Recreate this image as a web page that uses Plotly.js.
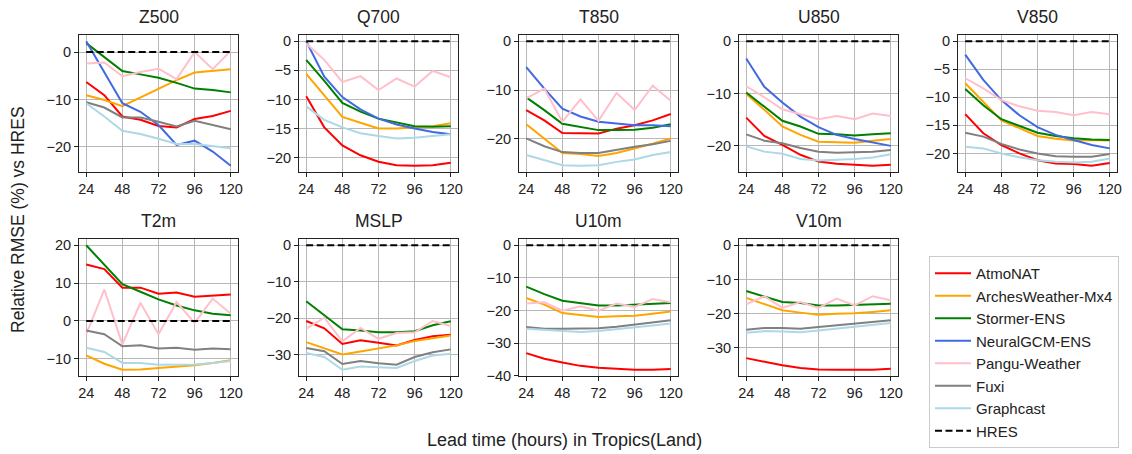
<!DOCTYPE html>
<html>
<head>
<meta charset="utf-8">
<script src="https://cdn.plot.ly/plotly-3.0.1.min.js"></script>
<style>html,body{margin:0;padding:0;background:#fff;}#chart{width:1132px;height:454px;}</style>
</head>
<body>
<div id="chart"></div>
<script>
// Lead times (hours)
const hours = [24, 36, 48, 60, 72, 84, 96, 108, 120];
const tickHours = [24, 48, 72, 96, 120];
const models = ["AtmoNAT", "ArchesWeather-Mx4", "Stormer-ENS", "NeuralGCM-ENS", "Pangu-Weather", "Fuxi", "Graphcast"];
const modelColors = ["red", "orange", "green", "royalblue", "pink", "gray", "lightblue"];
const panelTitles = ["Z500", "Q700", "T850", "U850", "V850", "T2m", "MSLP", "U10m", "V10m"];
const hres = [0, 0, 0, 0, 0, 0, 0, 0, 0];

// Values per panel, in model order (empty array = model not shown)
const Z500 = [
  [-6.3, -9.1, -13.6, -14.3, -15.6, -15.9, -14.1, -13.5, -12.4],
  [-9.1, -10.1, -11.4, -9.6, -7.7, -5.9, -4.3, -4.0, -3.6],
  [1.9, -1.0, -4.0, -4.7, -5.4, -6.5, -7.7, -8.0, -8.5],
  [2.3, -4.2, -10.8, -12.6, -15.4, -19.6, -18.7, -21.0, -24.0],
  [-2.4, -2.2, -5.1, -4.2, -3.5, -5.7, 0.0, -3.6, 0.3],
  [-10.6, -11.7, -13.8, -13.8, -14.7, -15.7, -14.5, -15.4, -16.3],
  [-10.8, -13.6, -16.6, -17.3, -18.3, -19.4, -19.4, -19.8, -20.3]
];
const Q700 = [
  [-9.45, -14.8, -17.9, -19.6, -20.7, -21.3, -21.4, -21.3, -20.9],
  [-5.6, -9.3, -13.0, -14.0, -15.0, -15.0, -14.8, -14.6, -14.1],
  [-3.2, -6.8, -10.6, -12.1, -13.3, -14.0, -14.6, -14.7, -14.6],
  [0.0, -6.1, -9.6, -11.7, -13.3, -14.3, -15.0, -15.6, -16.0],
  [-0.4, -3.2, -7.0, -6.0, -8.4, -6.4, -7.8, -5.1, -6.2],
  [],
  [-11.2, -13.5, -14.8, -15.8, -16.3, -16.7, -16.6, -16.3, -16.0]
];
const T850 = [
  [-14.1, -16.2, -18.8, -18.9, -18.9, -17.9, -17.2, -16.2, -14.9],
  [-17.0, -19.9, -22.9, -23.1, -23.5, -22.9, -22.0, -21.0, -19.9],
  [-11.5, -14.1, -16.9, -17.5, -18.2, -18.2, -18.1, -17.7, -17.0],
  [-5.3, -9.7, -13.8, -15.4, -16.5, -16.9, -17.2, -17.2, -17.4],
  [-11.7, -9.7, -16.5, -11.9, -16.3, -10.6, -14.1, -9.1, -12.2],
  [-19.9, -21.5, -22.7, -22.9, -22.9, -22.2, -21.6, -21.1, -20.4],
  [-23.3, -24.4, -25.4, -25.5, -25.4, -24.7, -24.2, -23.3, -22.7]
];
const U850 = [
  [-14.6, -18.1, -19.8, -21.7, -23.0, -23.4, -23.6, -23.8, -23.6],
  [-10.1, -13.1, -16.3, -17.9, -19.2, -19.3, -19.4, -19.0, -18.7],
  [-9.8, -12.5, -15.2, -16.3, -17.7, -17.8, -18.0, -17.8, -17.6],
  [-3.3, -8.7, -11.7, -14.4, -16.4, -17.9, -18.7, -19.4, -20.0],
  [-8.6, -10.7, -13.0, -13.9, -14.9, -14.3, -14.9, -13.8, -14.3],
  [-17.8, -19.0, -19.5, -20.4, -21.1, -21.3, -21.2, -21.1, -20.8],
  [-20.1, -21.1, -21.5, -22.5, -22.8, -22.7, -22.5, -22.2, -21.6]
];
const V850 = [
  [-13.0, -16.4, -18.5, -20.0, -21.2, -21.8, -21.9, -22.2, -21.7],
  [-7.5, -10.8, -14.1, -15.5, -16.9, -17.4, -17.7, -17.6, -17.7],
  [-8.5, -11.4, -13.9, -15.1, -16.3, -16.9, -17.3, -17.5, -17.6],
  [-2.4, -6.9, -10.5, -13.2, -15.3, -16.7, -17.6, -18.5, -19.1],
  [-6.6, -8.4, -10.5, -11.6, -12.4, -12.6, -13.2, -12.6, -13.0],
  [-16.3, -17.0, -18.3, -19.3, -20.0, -20.5, -20.6, -20.6, -20.1],
  [-18.8, -19.1, -20.0, -20.7, -21.2, -21.5, -21.6, -21.5, -20.9]
];
const T2m = [
  [14.9, 13.7, 8.8, 8.8, 7.2, 7.5, 6.4, 6.8, 7.0],
  [-9.1, -11.3, -12.9, -12.8, -12.4, -12.0, -11.7, -11.1, -10.4],
  [20.0, 14.9, 9.7, 7.7, 5.7, 4.1, 2.8, 1.9, 1.5],
  [],
  [-3.5, 8.3, -6.2, 4.8, -3.5, 5.0, -0.5, 5.9, 1.9],
  [-2.5, -3.5, -6.7, -6.4, -7.3, -7.1, -7.6, -7.3, -7.5],
  [-7.1, -8.2, -11.1, -11.1, -11.6, -11.5, -11.5, -11.1, -10.6]
];
const MSLP = [
  [-20.8, -22.8, -27.1, -26.1, -26.8, -27.5, -26.0, -25.0, -24.6],
  [-26.6, -28.2, -30.0, -29.2, -28.4, -27.5, -26.3, -25.5, -24.8],
  [-15.4, -19.3, -23.1, -23.4, -23.9, -23.9, -23.6, -22.0, -20.9],
  [],
  [-22.9, -19.9, -26.4, -22.7, -25.7, -24.1, -23.9, -20.8, -22.2],
  [-28.2, -29.1, -32.6, -31.8, -32.4, -32.8, -30.7, -29.4, -28.6],
  [-29.6, -30.7, -34.2, -33.3, -33.5, -33.7, -31.8, -30.3, -29.8]
];
const U10m = [
  [-33.1, -34.8, -36.0, -37.0, -37.6, -38.0, -38.2, -38.2, -38.0],
  [-16.2, -18.2, -20.8, -21.4, -22.0, -21.8, -21.6, -21.0, -20.3],
  [-12.7, -15.0, -17.0, -17.7, -18.5, -18.5, -18.3, -17.9, -17.7],
  [],
  [-17.9, -17.5, -20.1, -18.7, -20.1, -17.9, -18.9, -16.5, -17.5],
  [-25.1, -25.6, -25.6, -25.6, -25.5, -25.0, -24.3, -23.6, -23.0],
  [-25.6, -26.0, -26.3, -26.6, -26.3, -25.8, -25.3, -24.6, -24.0]
];
const V10m = [
  [-33.0, -34.1, -35.1, -35.9, -36.3, -36.4, -36.4, -36.4, -36.1],
  [-15.4, -17.1, -19.0, -19.7, -20.3, -20.0, -19.9, -19.5, -19.0],
  [-13.4, -14.9, -16.6, -16.9, -17.6, -17.6, -17.5, -17.3, -17.1],
  [],
  [-17.3, -14.9, -18.3, -16.6, -18.3, -15.6, -17.6, -14.9, -16.1],
  [-24.7, -24.2, -24.2, -24.4, -23.9, -23.4, -22.9, -22.6, -21.9],
  [-25.6, -25.1, -25.2, -25.4, -24.9, -24.4, -23.9, -23.4, -22.7]
];
const panelData = [Z500, Q700, T850, U850, V850, T2m, MSLP, U10m, V10m];
const panelDtick = [10, 5, 10, 10, 5, 10, 10, 10, 10];

// ---- layout geometry (pixels) ----
const W = 1132, H = 454;
const colLeft = [79, 299, 519, 739, 958];
const plotW = 159;
const rowTop = [35, 239];
const plotH = 137;
const FONT = "Liberation Sans, Arial, Helvetica, sans-serif";

const traces = [];
const layout = {
  width: W, height: H,
  margin: {l: 0, r: 0, t: 0, b: 0},
  paper_bgcolor: "#fff", plot_bgcolor: "#fff",
  font: {family: FONT, size: 14, color: "#222"},
  showlegend: true,
  legend: {
    x: 929 / W, y: 1 - 256 / H, xanchor: "left", yanchor: "top",
    bordercolor: "#cccccc", borderwidth: 1, bgcolor: "#fff",
    font: {family: FONT, size: 15, color: "#222"},
    tracegroupgap: 0, itemwidth: 36
  },
  annotations: []
};

panelData.forEach((data, p) => {
  const row = p < 5 ? 0 : 1;
  const col = p < 5 ? p : p - 5;
  const idx = p + 1;
  const xa = "xaxis" + (idx === 1 ? "" : idx);
  const ya = "yaxis" + (idx === 1 ? "" : idx);
  const xref = "x" + (idx === 1 ? "" : idx);
  const yref = "y" + (idx === 1 ? "" : idx);

  // y range: matplotlib-style autoscale with 5% margins
  let mn = 0, mx = 0;
  data.forEach(s => s.forEach(v => { mn = Math.min(mn, v); mx = Math.max(mx, v); }));
  const pad = (mx - mn) * 0.05;

  const x0 = colLeft[col], x1 = x0 + plotW;
  const yTop = rowTop[row], yBot = yTop + plotH;
  const axisCommon = {
    showline: true, mirror: true, linecolor: "#222", linewidth: 1,
    ticks: "outside", ticklen: 4, tickwidth: 1, tickcolor: "#222",
    showgrid: true, gridcolor: "#b8b8b8", gridwidth: 1, zeroline: false,
    tickfont: {family: FONT, size: 14.5, color: "#222"}, fixedrange: true
  };
  layout[xa] = Object.assign({}, axisCommon, {
    domain: [x0 / W, x1 / W], anchor: yref,
    range: [24 - 4.8, 120 + 4.8], tickvals: tickHours, ticktext: tickHours.map(String)
  });
  layout[ya] = Object.assign({}, axisCommon, {
    domain: [1 - yBot / H, 1 - yTop / H], anchor: xref,
    range: [mn - pad, mx + pad], tick0: 0, dtick: panelDtick[p]
  });

  layout.annotations.push({
    text: panelTitles[p], xref: "paper", yref: "paper",
    x: (x0 + x1) / 2 / W, y: 1 - (yTop - 6) / H, xanchor: "center", yanchor: "bottom",
    showarrow: false, font: {family: FONT, size: 17.5, color: "#222"}
  });

  data.forEach((s, m) => {
    if (!s.length) return;
    traces.push({
      type: "scatter", mode: "lines", x: hours, y: s, xaxis: xref, yaxis: yref,
      name: models[m], showlegend: p === 0,
      line: {color: modelColors[m], width: 2}, hoverinfo: "skip"
    });
  });
  traces.push({
    type: "scatter", mode: "lines", x: hours, y: hres, xaxis: xref, yaxis: yref,
    name: "HRES", showlegend: p === 0,
    line: {color: "#000", width: 2, dash: "7px,3.5px"}, hoverinfo: "skip"
  });
});

layout.annotations.push({
  text: "Relative RMSE (%) vs HRES", xref: "paper", yref: "paper",
  x: 18 / W, y: 1 - 220 / H, textangle: -90, xanchor: "center", yanchor: "middle",
  showarrow: false, font: {family: FONT, size: 17.5, color: "#222"}
});
layout.annotations.push({
  text: "Lead time (hours) in Tropics(Land)", xref: "paper", yref: "paper",
  x: 564 / W, y: 1 - 440 / H, xanchor: "center", yanchor: "middle",
  showarrow: false, font: {family: FONT, size: 18, color: "#222"}
});

Plotly.newPlot("chart", traces, layout, {staticPlot: true, displayModeBar: false});
</script>
</body>
</html>
